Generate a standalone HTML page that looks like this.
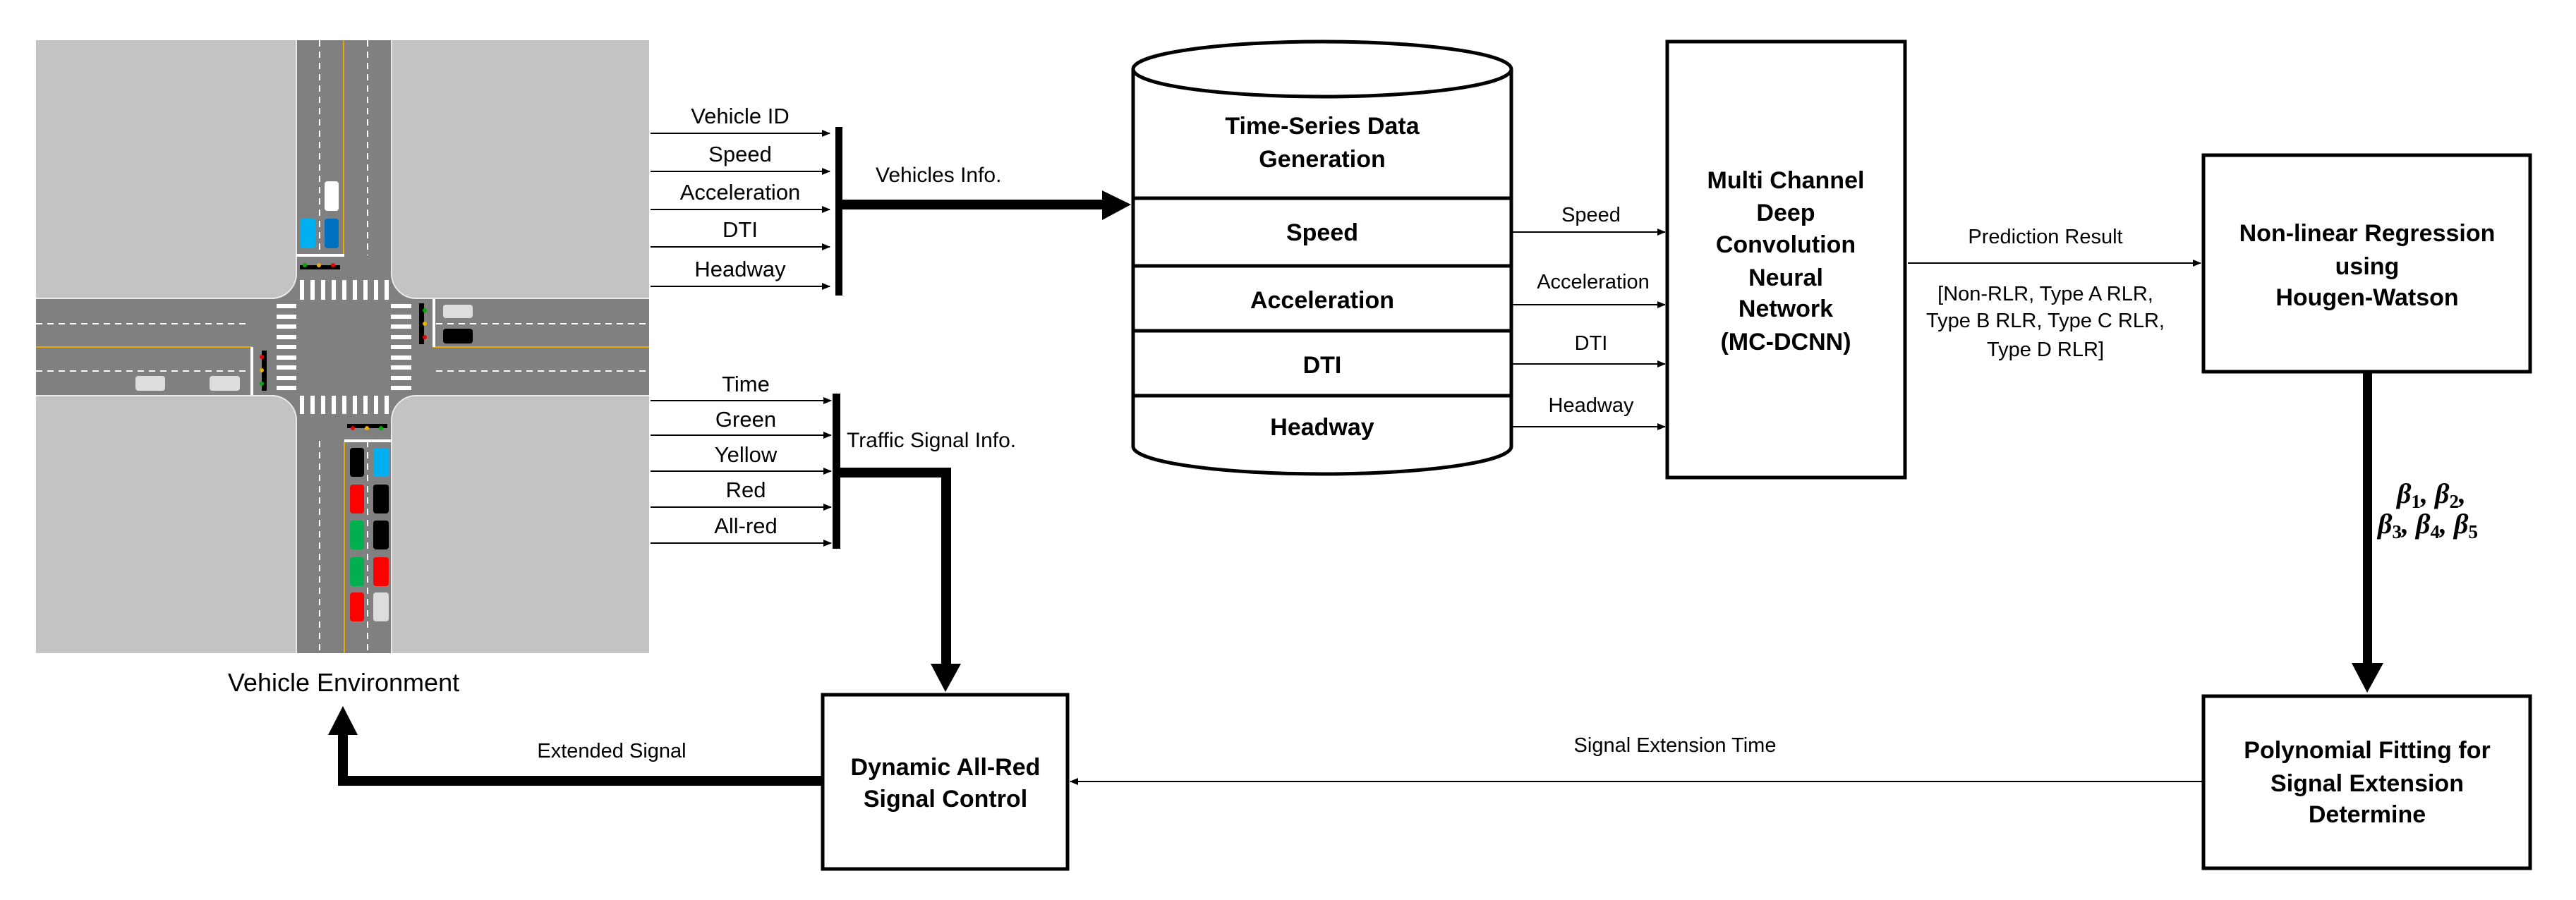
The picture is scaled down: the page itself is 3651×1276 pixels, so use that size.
<!DOCTYPE html>
<html><head><meta charset="utf-8"><style>html,body{margin:0;padding:0;background:#fff}svg{display:block}</style></head><body>
<svg width="3651" height="1276" viewBox="0 0 3651 1276" xmlns="http://www.w3.org/2000/svg" font-family="Liberation Sans, sans-serif">
<defs>
<marker id="a" markerWidth="12" markerHeight="10" refX="11" refY="5" orient="auto" markerUnits="userSpaceOnUse"><path d="M0,0 L12,5 L0,10 Z" fill="#000"/></marker>
</defs>
<rect x="51" y="57" width="869" height="869" fill="#c3c3c3"/>
<rect x="420" y="57" width="135" height="869" fill="#808080"/>
<rect x="51" y="424" width="869" height="136" fill="#808080"/>
<path d="M385,424 A35,35 0 0 0 420,389 L420,424 Z" fill="#808080"/>
<path d="M555,389 A35,35 0 0 0 590,424 L555,424 Z" fill="#808080"/>
<path d="M385,560 A35,35 0 0 1 420,595 L420,560 Z" fill="#808080"/>
<path d="M555,595 A35,35 0 0 1 590,560 L555,560 Z" fill="#808080"/>
<g stroke="#e8e8e8" stroke-width="2" fill="none">
<path d="M51,423 H385 A35,35 0 0 0 420,389 V57"/>
<path d="M555,57 V389 A35,35 0 0 0 590,423 H920"/>
<path d="M51,561 H385 A35,35 0 0 1 420,595 V926"/>
<path d="M555,926 V595 A35,35 0 0 1 590,561 H920"/>
</g>
<g stroke="#fff" stroke-width="2" stroke-dasharray="9,7">
<line x1="453" y1="57" x2="453" y2="362"/><line x1="521" y1="57" x2="521" y2="362"/>
<line x1="453" y1="625" x2="453" y2="926"/><line x1="521" y1="625" x2="521" y2="926"/>
<line x1="51" y1="459" x2="352" y2="459"/><line x1="51" y1="526" x2="352" y2="526"/>
<line x1="618" y1="459" x2="920" y2="459"/><line x1="618" y1="526" x2="920" y2="526"/>
</g>
<g stroke="#e8a800" stroke-width="2">
<line x1="487" y1="57" x2="487" y2="362"/><line x1="488" y1="625" x2="488" y2="926"/>
<line x1="51" y1="492" x2="357" y2="492"/><line x1="614" y1="492" x2="920" y2="492"/>
</g>
<g stroke="#fff" stroke-width="4">
<line x1="420" y1="362" x2="488" y2="362"/><line x1="488" y1="625" x2="555" y2="625"/>
<line x1="357" y1="492" x2="357" y2="560"/><line x1="615" y1="424" x2="615" y2="492"/>
</g>
<g fill="#fff">
<rect x="425" y="397" width="6" height="28"/><rect x="440" y="397" width="6" height="28"/><rect x="455" y="397" width="6" height="28"/><rect x="470" y="397" width="6" height="28"/><rect x="485" y="397" width="6" height="28"/><rect x="500" y="397" width="6" height="28"/><rect x="515" y="397" width="6" height="28"/><rect x="530" y="397" width="6" height="28"/><rect x="545" y="397" width="6" height="28"/>
<rect x="425" y="561" width="6" height="26"/><rect x="440" y="561" width="6" height="26"/><rect x="455" y="561" width="6" height="26"/><rect x="470" y="561" width="6" height="26"/><rect x="485" y="561" width="6" height="26"/><rect x="500" y="561" width="6" height="26"/><rect x="515" y="561" width="6" height="26"/><rect x="530" y="561" width="6" height="26"/><rect x="545" y="561" width="6" height="26"/>
<rect x="392" y="431" width="28" height="6"/><rect x="392" y="446" width="28" height="6"/><rect x="392" y="460" width="28" height="6"/><rect x="392" y="475" width="28" height="6"/><rect x="392" y="489" width="28" height="6"/><rect x="392" y="504" width="28" height="6"/><rect x="392" y="518" width="28" height="6"/><rect x="392" y="533" width="28" height="6"/><rect x="392" y="547" width="28" height="6"/>
<rect x="554" y="431" width="29" height="6"/><rect x="554" y="446" width="29" height="6"/><rect x="554" y="460" width="29" height="6"/><rect x="554" y="475" width="29" height="6"/><rect x="554" y="489" width="29" height="6"/><rect x="554" y="504" width="29" height="6"/><rect x="554" y="518" width="29" height="6"/><rect x="554" y="533" width="29" height="6"/><rect x="554" y="547" width="29" height="6"/>
</g>
<rect x="425" y="376" width="57" height="6" fill="#000"/>
<circle cx="432" cy="376" r="3" fill="#0a0"/><circle cx="452" cy="376" r="3" fill="#e8b000"/><circle cx="472" cy="376" r="3" fill="#e00"/>
<rect x="492" y="601" width="57" height="6" fill="#000"/>
<circle cx="500" cy="607" r="3" fill="#e00"/><circle cx="520" cy="607" r="3" fill="#e8b000"/><circle cx="540" cy="607" r="3" fill="#0a0"/>
<rect x="594" y="430" width="7" height="58" fill="#000"/>
<circle cx="602" cy="440" r="3" fill="#0a0"/><circle cx="602" cy="459" r="3" fill="#e8b000"/><circle cx="602" cy="478" r="3" fill="#e00"/>
<rect x="371" y="497" width="7" height="57" fill="#000"/>
<circle cx="371" cy="506" r="3" fill="#e00"/><circle cx="371" cy="525" r="3" fill="#e8b000"/><circle cx="371" cy="544" r="3" fill="#0a0"/>
<rect x="460" y="257" width="20" height="42" rx="4" fill="#fff"/>
<rect x="425" y="310" width="22" height="42" rx="4" fill="#00b0f0"/>
<rect x="460" y="310" width="20" height="42" rx="4" fill="#0070c0"/>
<rect x="628" y="432" width="42" height="19" rx="4" fill="#ddd"/>
<rect x="628" y="466" width="42" height="21" rx="4" fill="#000"/>
<rect x="192" y="533" width="42" height="21" rx="4" fill="#ddd"/>
<rect x="297" y="533" width="43" height="21" rx="4" fill="#ddd"/>
<g>
<rect x="496" y="635" width="20" height="41" rx="4" fill="#000"/><rect x="529" y="635" width="22" height="41" rx="4" fill="#00b0f0"/>
<rect x="496" y="687" width="20" height="41" rx="4" fill="#f00"/><rect x="529" y="687" width="22" height="41" rx="4" fill="#000"/>
<rect x="496" y="738" width="20" height="41" rx="4" fill="#00b050"/><rect x="529" y="738" width="22" height="41" rx="4" fill="#000"/>
<rect x="496" y="790" width="20" height="41" rx="4" fill="#00b050"/><rect x="529" y="790" width="22" height="41" rx="4" fill="#f00"/>
<rect x="496" y="840" width="20" height="41" rx="4" fill="#f00"/><rect x="529" y="840" width="22" height="41" rx="4" fill="#ddd"/>
</g>
<text x="487" y="980" font-size="36" text-anchor="middle">Vehicle Environment</text>

<g stroke="#000" stroke-width="2" marker-end="url(#a)">
<line x1="922" y1="189" x2="1176" y2="189"/><line x1="922" y1="243" x2="1176" y2="243"/><line x1="922" y1="297" x2="1176" y2="297"/><line x1="922" y1="350" x2="1176" y2="350"/><line x1="922" y1="406" x2="1176" y2="406"/>
<line x1="922" y1="568" x2="1178" y2="568"/><line x1="922" y1="617" x2="1178" y2="617"/><line x1="922" y1="668" x2="1178" y2="668"/><line x1="922" y1="719" x2="1178" y2="719"/><line x1="922" y1="770" x2="1178" y2="770"/>
</g>
<g font-size="31" text-anchor="middle">
<text x="1049" y="175">Vehicle ID</text><text x="1049" y="229">Speed</text><text x="1049" y="283">Acceleration</text><text x="1049" y="336">DTI</text><text x="1049" y="392">Headway</text>
<text x="1057" y="555">Time</text><text x="1057" y="605">Green</text><text x="1057" y="655">Yellow</text><text x="1057" y="705">Red</text><text x="1057" y="756">All-red</text>
</g>
<rect x="1184" y="180" width="10" height="239" fill="#000"/>
<rect x="1180" y="558" width="11" height="220" fill="#000"/>
<text x="1241" y="258" font-size="30">Vehicles Info.</text>
<text x="1200" y="634" font-size="30">Traffic Signal Info.</text>
<rect x="1194" y="283" width="370" height="14" fill="#000"/>
<path d="M1562,270 L1603,290 L1562,312 Z" fill="#000"/>
<path d="M1191,670 H1341 V945" stroke="#000" stroke-width="14" fill="none"/>
<path d="M1319,941 L1362,941 L1340,981 Z" fill="#000"/>

<g stroke="#000" stroke-width="5" fill="#fff">
<path d="M1606,98 V633 A268,39 0 0 0 2142,633 V98"/>
<ellipse cx="1874" cy="98" rx="268" ry="39"/>
<line x1="1606" y1="281" x2="2142" y2="281"/><line x1="1606" y1="377" x2="2142" y2="377"/>
<line x1="1606" y1="469" x2="2142" y2="469"/><line x1="1606" y1="561" x2="2142" y2="561"/>
</g>
<g font-size="34" font-weight="bold" text-anchor="middle">
<text x="1874" y="190">Time-Series Data</text><text x="1874" y="237">Generation</text>
<text x="1874" y="341">Speed</text><text x="1874" y="437">Acceleration</text><text x="1874" y="529">DTI</text><text x="1874" y="617">Headway</text>
</g>
<g stroke="#000" stroke-width="2" marker-end="url(#a)">
<line x1="2144" y1="329" x2="2360" y2="329"/><line x1="2144" y1="432" x2="2360" y2="432"/><line x1="2144" y1="516" x2="2360" y2="516"/><line x1="2144" y1="605" x2="2360" y2="605"/>
<line x1="2704" y1="373" x2="3119" y2="373"/>
<line x1="3121" y1="1108" x2="1517" y2="1108"/>
</g>
<g font-size="29" text-anchor="middle">
<text x="2255" y="314">Speed</text><text x="2258" y="409">Acceleration</text><text x="2255" y="496">DTI</text><text x="2255" y="584">Headway</text>
<text x="2899" y="345">Prediction Result</text>
<text x="2899" y="426">[Non-RLR, Type A RLR,</text><text x="2899" y="464">Type B RLR, Type C RLR,</text><text x="2899" y="505">Type D RLR]</text>
<text x="2374" y="1066">Signal Extension Time</text>
<text x="867" y="1074">Extended Signal</text>
</g>
<g stroke="#000" stroke-width="5" fill="none">
<rect x="2363" y="59" width="337" height="618"/>
<rect x="3123" y="220" width="463" height="307"/>
<rect x="3123" y="987" width="463" height="244"/>
<rect x="1166" y="985" width="347" height="247"/>
</g>
<g font-size="34" font-weight="bold" text-anchor="middle">
<text x="2531" y="267">Multi Channel</text><text x="2531" y="313">Deep</text><text x="2531" y="358">Convolution</text><text x="2531" y="405">Neural</text><text x="2531" y="449">Network</text><text x="2531" y="496">(MC-DCNN)</text>
<text x="3355" y="342">Non-linear Regression</text><text x="3355" y="389">using</text><text x="3355" y="433">Hougen-Watson</text>
<text x="3355" y="1075">Polynomial Fitting for</text><text x="3355" y="1122">Signal Extension</text><text x="3355" y="1166">Determine</text>
<text x="1340" y="1099">Dynamic All-Red</text><text x="1340" y="1144">Signal Control</text>
</g>
<rect x="3349" y="529" width="13" height="414" fill="#000"/>
<path d="M3333,940 L3378,940 L3355,982 Z" fill="#000"/>
<g font-family="Liberation Serif, serif" font-style="italic" font-weight="bold" font-size="40">
<text x="3397" y="713">β<tspan font-size="27" dy="7" font-style="normal">1</tspan><tspan dy="-7">, β</tspan><tspan font-size="27" dy="7" font-style="normal">2</tspan><tspan dy="-7">,</tspan></text>
<text x="3370" y="756">β<tspan font-size="27" dy="7" font-style="normal">3</tspan><tspan dy="-7">, β</tspan><tspan font-size="27" dy="7" font-style="normal">4</tspan><tspan dy="-7">, β</tspan><tspan font-size="27" dy="7" font-style="normal">5</tspan></text>
</g>
<path d="M1164,1107 H486 V1040" stroke="#000" stroke-width="14" fill="none"/>
<path d="M465,1042 L507,1042 L486,1001 Z" fill="#000"/>
</svg>
</body></html>
